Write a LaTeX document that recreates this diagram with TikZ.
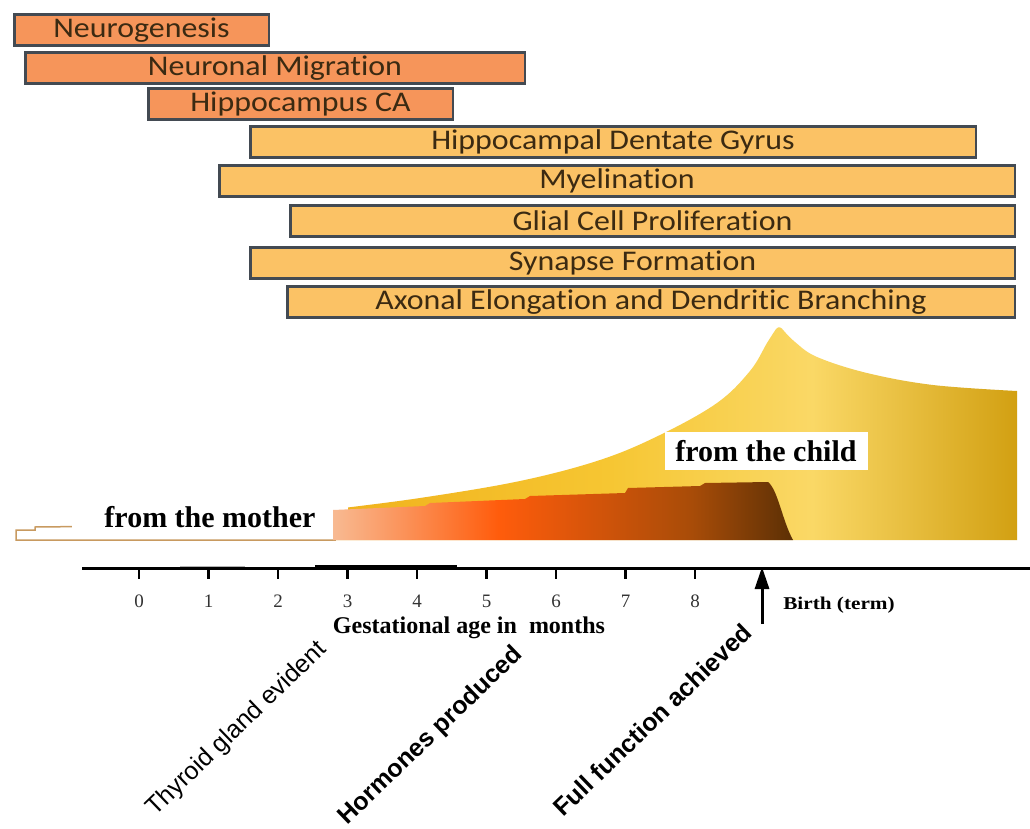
\documentclass[tikz,border=0pt]{standalone}
\usepackage{fontspec}
\usepackage{graphicx}
\setmainfont{Liberation Serif}
\newfontfamily\barfont[Ligatures=NoCommon]{Carlito}
\newfontfamily\arialfont{Liberation Sans}
\usetikzlibrary{arrows.meta}
\definecolor{barorange}{HTML}{F6955A}
\definecolor{baryellow}{HTML}{FBC265}
\definecolor{barline}{HTML}{434A52}
\definecolor{bartext}{HTML}{3B2A12}
\definecolor{mline}{HTML}{C89A60}
\definecolor{ya}{HTML}{F0B21C}
\definecolor{yb}{HTML}{F6C632}
\definecolor{yc}{HTML}{FAD866}
\definecolor{yd}{HTML}{D2A012}
\definecolor{oa}{HTML}{F8BA92}
\definecolor{ob}{HTML}{FF5C0C}
\definecolor{oc}{HTML}{A84C08}
\definecolor{od}{HTML}{5C3005}
\pgfdeclarehorizontalshading{childshade}{100bp}{color(0bp)=(ya); color(25bp)=(ya); color(45bp)=(yb); color(60bp)=(yc); color(75bp)=(yd); color(100bp)=(yd)}
\pgfdeclarehorizontalshading{mothershade}{100bp}{color(0bp)=(oa); color(25bp)=(oa); color(43bp)=(ob); color(64bp)=(oc); color(75bp)=(od); color(100bp)=(od)}
\newcommand\sx[1]{\scalebox{1.12}[1]{#1}}
\newcommand\sxb[1]{\scalebox{1.18}[1]{#1}}
\tikzset{
  bar/.style={draw=barline, line width=2.5pt, minimum height=31pt, inner sep=0pt,
    text=bartext, font=\barfont\fontsize{28.5}{30}\selectfont},
  obar/.style={bar, fill=barorange},
  ybar/.style={bar, fill=baryellow},
  lbl/.style={fill=white, inner sep=0pt, font=\bfseries\fontsize{30}{32}\selectfont},
  tick/.style={line width=2.5pt},
  ticklbl/.style={font=\fontsize{19}{21}\selectfont, text=black!80},
  diag/.style={anchor=base west, rotate=44, inner sep=0pt, font=\arialfont\fontsize{25}{28}\selectfont}
}
\begin{document}
\begin{tikzpicture}[x=1pt,y=-1pt]
\useasboundingbox (0,0) rectangle (1030,829);
\fill[white] (0,0) rectangle (1030,829);

% bars
\node[obar, minimum width=254.5] (neuro) at (141.5,30) {\sx{Neurogenesis}};
\node[obar, minimum width=499.5] (migr) at (275,68) {\sx{Neuronal Migration}};
\node[obar, minimum width=304.5] (hca) at (300.5,104) {\sx{Hippocampus CA}};
\node[ybar, minimum width=725.5] (dg) at (613,142) {\sx{Hippocampal Dentate Gyrus}};
\node[ybar, minimum width=795.5] (myel) at (617,181) {\sx{Myelination}};
\node[ybar, minimum width=724.5] (glia) at (652.5,221) {\sx{Glial Cell Proliferation}};
\node[ybar, minimum width=764.5] (syn) at (632.5,263) {\sx{Synapse Formation}};
\node[ybar, minimum width=727.5] (axon) at (651,302) {\sx{Axonal Elongation and Dendritic Branching}};

% child hormone area
\shade[shading=childshade] (335,540)
  -- plot[smooth, tension=0.6] coordinates {(335,509) (420,498) (520,481) (600,460) (660,435) (717,403) (750,371) (767,343) (776,329)}
  .. controls (779,326) and (781,327) .. (784,331)
  -- plot[smooth, tension=0.6] coordinates {(784,331) (795,342) (817,357) (867,373) (933,385) (1017,391)}
  -- (1017,540) -- cycle;

% mother outline
\draw[mline, line width=1.5pt, fill=white] (16,540) -- (16,530) -- (35,530) -- (35,527) -- (335,524) -- (335,540) -- cycle;
\node[lbl, minimum width=276, minimum height=36] (mother) at (210,517) {from the mother};

% mother hormone area
\shade[shading=mothershade] (333,540) -- (333,510) -- (425,506) -- (430,503) -- (525,499) -- (530,496) -- (625,493) -- (628,488) -- (700,486) -- (705,483) -- (768,482) .. controls (778,490) and (782,520) .. (793,540) -- cycle;

\node[lbl, minimum width=203, minimum height=38] (child) at (766,451) {from the child};

% axis
\coordinate (axl) at (82,568);
\coordinate (axr) at (1030,568);
\draw[line width=3pt] (axl) -- (axr);
\draw[line width=2pt] (315,565.5) -- (457,565.5);
\draw[black!30, line width=1pt] (180,566) -- (245,566);
\foreach \i in {0,...,8}{
  \draw[tick] (139+69.5*\i,568) -- (139+69.5*\i,579);
  \node[ticklbl] (t\i) at (139+69.5*\i,601) {\i};
}
\coordinate (btail) at (762,624);
\coordinate (btip) at (762,567);
\draw[line width=3pt, -{Triangle[length=22pt,width=14pt]}] (btail) -- (btip);
\node[font=\bfseries\fontsize{18}{20}\selectfont] (birth) at (839,605) {\sxb{Birth (term)}};
\node[font=\bfseries\fontsize{24}{26}\selectfont] (gest) at (469,628) {Gestational age in\ \ months};

% rotated labels
\node[diag] (thy) at (155,817) {Thyroid gland evident};
\node[diag, font=\arialfont\bfseries\fontsize{25}{28}\selectfont] (horm) at (347,826) {Hormones produced};
\node[diag, font=\arialfont\bfseries\fontsize{25}{28}\selectfont] (full) at (563,818) {Full function achieved};
\end{tikzpicture}
\end{document}
